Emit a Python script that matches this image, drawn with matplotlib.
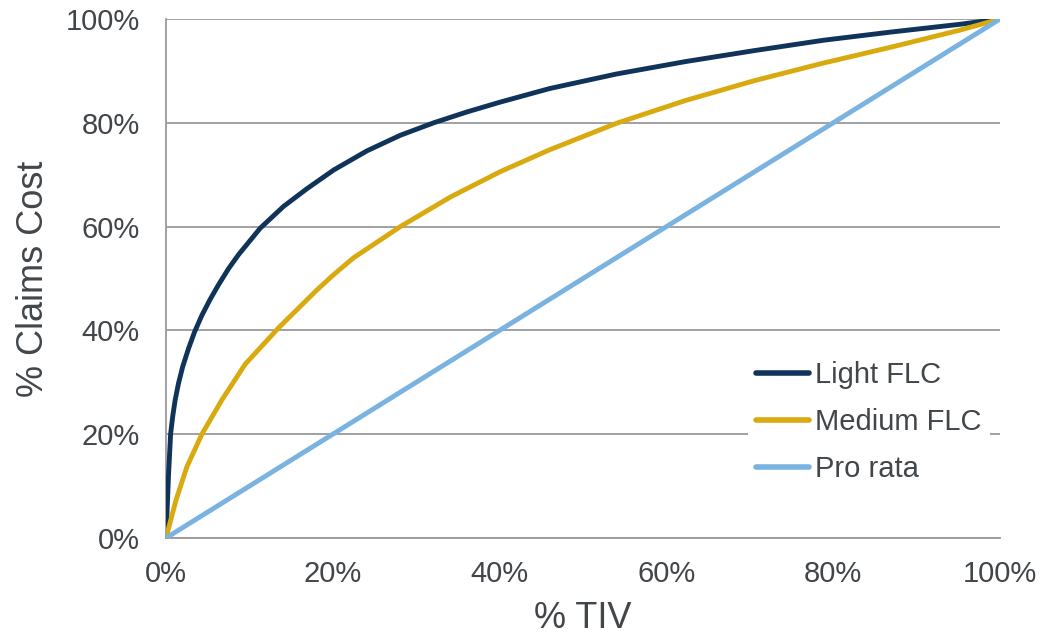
import matplotlib
matplotlib.use("Agg")
import matplotlib.pyplot as plt
from matplotlib.ticker import FuncFormatter

plt.rcParams['font.family'] = ['Liberation Sans', 'DejaVu Sans']

# Data (percent)
light_x = [0, 0.1, 0.3, 0.55, 0.8, 1.1, 1.5, 2.0, 2.7, 3.4, 4.3, 5.3, 6.3, 7.5, 8.7, 11.3,
           14.1, 16.9, 20.1, 24.1, 28.1, 32.1, 36.1, 40.1, 46, 54, 62.3, 70.5, 78.8,
           87, 95.3, 100]
light_y = [0, 4, 12, 20, 23.4, 26.6, 29.8, 33, 36.5, 39.6, 42.9, 46, 48.8, 51.9, 54.6, 59.7,
           63.9, 67.3, 70.9, 74.6, 77.6, 80, 82.1, 84, 86.6, 89.4, 91.8, 93.9, 95.9,
           97.5, 99, 100]
medium_x = [0, 1.2, 2.5, 4.3, 6.7, 9.5, 13.5, 18.1, 20, 22.5, 28.1, 34.1, 40.1, 46,
            54, 62.3, 70.5, 78.8, 87, 95.3, 100]
medium_y = [0, 7.3, 13.7, 20, 26.6, 33.5, 40.5, 47.8, 50.6, 54, 60, 65.7, 70.6, 74.8,
            79.9, 84.3, 88.1, 91.5, 94.6, 97.9, 100]
prorata_x = [0, 100]
prorata_y = [0, 100]

series_names = ["Light FLC", "Medium FLC", "Pro rata"]
colors = ["#10335A", "#D9AA0F", "#7AB2E0"]
ticks = [0, 20, 40, 60, 80, 100]

text_color = "#41464B"
grid_color = "#9A9A9A"

fig = plt.figure(figsize=(10.43, 6.38), dpi=100)
ax = fig.add_axes([166/1043, 1 - 538/638, (1000-166)/1043, (538-19)/638])

for (xs, ys), name, c in zip([(light_x, light_y), (medium_x, medium_y), (prorata_x, prorata_y)],
                             series_names, colors):
    ax.plot(xs, ys, color=c, lw=3.5, label=name, solid_capstyle='round',
            solid_joinstyle='round', zorder=3)

ax.set_xlim(0, 100)
ax.set_ylim(0, 100)
ax.set_xticks(ticks)
ax.set_yticks(ticks)
fmt = FuncFormatter(lambda v, p: f"{int(v)}%")
ax.xaxis.set_major_formatter(fmt)
ax.yaxis.set_major_formatter(fmt)
ax.tick_params(axis='both', length=0, labelsize=21, labelcolor=text_color)
ax.tick_params(axis='x', pad=16)
ax.tick_params(axis='y', pad=19)

ax.yaxis.grid(True, color=grid_color, lw=1.3, zorder=1)
ax.set_axisbelow(True)
for s in ['top', 'right']:
    ax.spines[s].set_visible(False)
for s in ['left', 'bottom']:
    ax.spines[s].set_color(grid_color)
    ax.spines[s].set_linewidth(1.3)

ax.set_xlabel("% TIV", fontsize=26, color=text_color, labelpad=9)
ax.set_ylabel("% Claims Cost", fontsize=26, color=text_color, labelpad=10)

leg = ax.legend(loc='upper left', bbox_to_anchor=(0.68, 0.386), fontsize=21,
                frameon=True, facecolor='white', edgecolor='none', framealpha=1,
                fancybox=False, borderpad=0.3, handlelength=1.8, handletextpad=0.2,
                labelspacing=0.65)
for t in leg.get_texts():
    t.set_color(text_color)
for h in leg.get_lines():
    h.set_linewidth(4)

fig.savefig("out.png", dpi=100)
